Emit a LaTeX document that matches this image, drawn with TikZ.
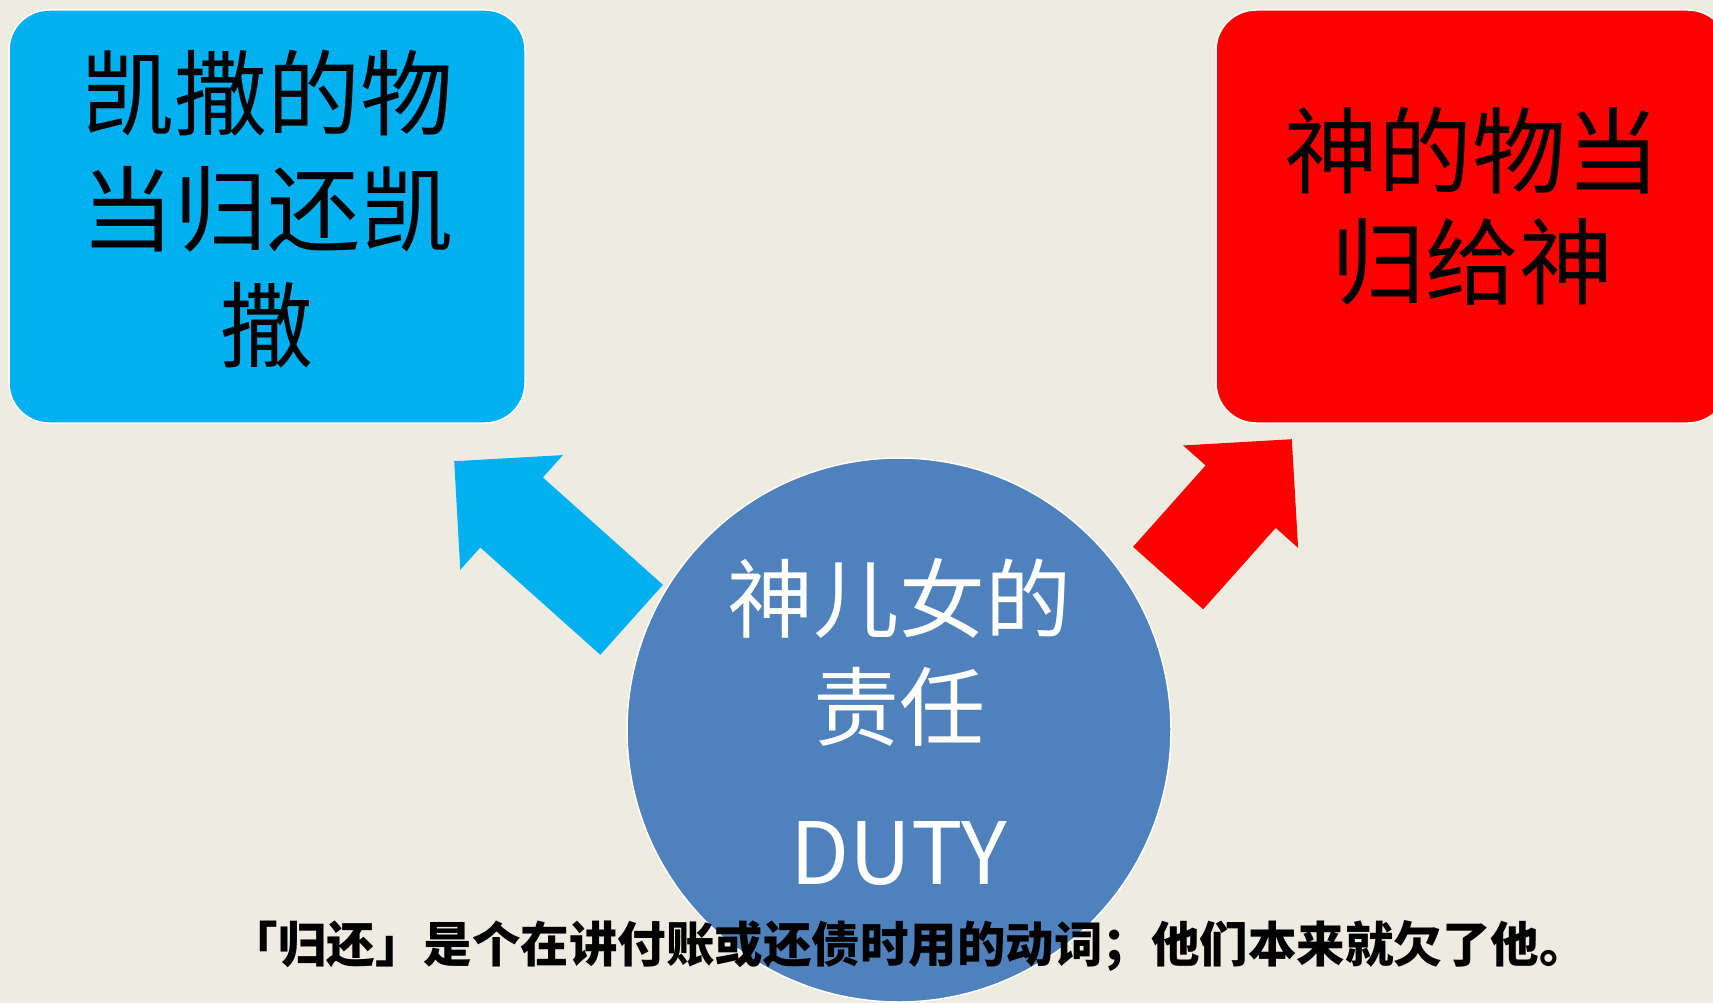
\documentclass[tikz,border=0pt]{standalone}
\usepackage{fontspec}
\newfontfamily\cjk{Noto Sans CJK SC}
\usetikzlibrary{shapes.arrows}

\definecolor{paper}{RGB}{238,236,225}
\definecolor{caesarblue}{RGB}{0,176,240}
\definecolor{godred}{RGB}{255,0,0}
\definecolor{dutyblue}{RGB}{79,129,189}

\begin{document}
\begin{tikzpicture}[x=1pt,y=-1pt,
  card/.style={rounded corners=40pt, draw=white, line width=1.5pt,
    minimum width=516pt, minimum height=413pt, inner sep=0pt},
  cardtext/.style={align=center, inner sep=0pt},
  bigarrow/.style={single arrow, single arrow head extend=30pt,
    inner xsep=0pt, inner ysep=46.75pt, anchor=tip}]
 % Background
 \useasboundingbox (0,0) rectangle (1713,1003);
 \fill[paper] (0,0) rectangle (1713,1003);

 % Parameters
 \def\cardy{216.5}

 % Boxes
 \node[card, fill=caesarblue] (caesar) at (267,\cardy) {};
 \node[cardtext, font=\cjk\fontsize{93}{116}\selectfont] (caesartext) at ([yshift=7pt]caesar.center)
   {凯撒的物\\当归还凯\\撒};
 \node[card, fill=godred, minimum width=512pt] (god) at (1472,\cardy) {};
 \node[cardtext, font=\cjk\fontsize{94}{111}\selectfont] (godtext) at ([yshift=10pt]god.center)
   {神的物当\\归给神};

 % Arrows
 \node[bigarrow, fill=caesarblue, minimum height=238pt, rotate=138.2] (tocaesar) at (454,461) {};
 \node[bigarrow, fill=godred, minimum height=186pt, rotate=48.3] (togod) at (1292,439) {};

 % Circle
 \node[circle, fill=dutyblue, draw=white, line width=1.5pt, minimum size=544pt, inner sep=0pt] (duty) at (899,730) {};
 \node[cardtext, text=white, font=\cjk\fontsize{86}{108}\selectfont] (dutytext) at ([yshift=8pt]duty.center)
   {神儿女的\\责任\\[37pt]DUTY};

 % Note
 \node[font=\cjk\bfseries\fontsize{48.5}{56}\selectfont] (note) at (908.5,946)
   {「归还」是个在讲付账或还债时用的动词；他们本来就欠了他。};
\end{tikzpicture}
\end{document}
